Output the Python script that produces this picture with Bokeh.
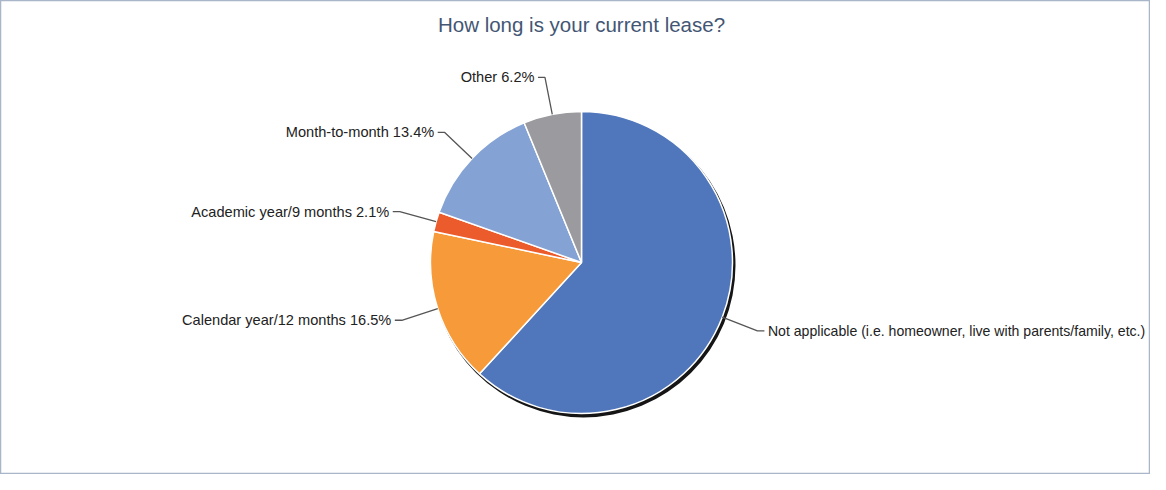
import math
from bokeh.plotting import figure
from bokeh.models import Range1d, ColumnDataSource
from bokeh.core.properties import value
from bokeh.embed import file_html
from bokeh.resources import INLINE

title_text = "How long is your current lease?"
categories = [
    "Not applicable (i.e. homeowner, live with parents/family, etc.)",
    "Calendar year/12 months",
    "Academic year/9 months",
    "Month-to-month",
    "Other",
]
percents = [61.8, 16.5, 2.1, 13.4, 6.2]
colors = ["#5077bb", "#f79a3a", "#ec5b2c", "#84a3d4", "#9a9a9f"]

W, H = 1150, 474
p = figure(width=W, height=H, output_backend="svg", toolbar_location=None,
           x_range=Range1d(0, W), y_range=Range1d(0, H), min_border=0,
           match_aspect=False)
p.axis.visible = False
p.grid.visible = False
p.outline_line_color = "#a9b6c9"
p.outline_line_width = 1.5
p.background_fill_color = "white"
p.border_fill_color = "white"

cx, cy, r = 581, 212, 151

# shadow
p.circle(x=[cx + 2], y=[cy - 3], radius=r + 1, fill_color="#151515",
         line_color=None)

total = sum(percents)
starts, ends, mids = [], [], []
cum = 0.0
for v in percents:
    a0 = 90 - (cum + v) / total * 360
    a1 = 90 - cum / total * 360
    starts.append(math.radians(a0))
    ends.append(math.radians(a1))
    mids.append(math.radians((a0 + a1) / 2))
    cum += v

src = ColumnDataSource(dict(start=starts, end=ends, color=colors))
p.wedge(x=cx, y=cy, radius=r, start_angle="start", end_angle="end",
        fill_color="color", line_color="white", line_width=1.5, source=src)

# leader lines and labels
for cat, v, m in zip(categories, percents, mids):
    ex, ey = cx + r * math.cos(m), cy + r * math.sin(m)
    bx, by = cx + 1.25 * r * math.cos(m), cy + 1.25 * r * math.sin(m)
    side = 1 if math.cos(m) >= 0 else -1
    hx = bx + side * 7
    p.line(x=[ex, bx, hx], y=[ey, by, by], line_color="#555555", line_width=1.3)
    label = cat if side > 0 else f"{cat} {v:.1f}%"
    p.text(x=[hx + side * 3.5], y=[by], text=[label],
           text_font=value("Liberation Sans"),
           text_font_size="14.1px" if side > 0 else "14.6px",
           text_color="#222222", text_baseline="middle",
           text_align="left" if side > 0 else "right")

p.text(x=[cx], y=[450], text=[title_text], text_font=value("Liberation Sans"),
       text_font_size="20.5px", text_color="#435674", text_baseline="middle",
       text_align="center")

open("out.html", "w").write(file_html(p, INLINE))
